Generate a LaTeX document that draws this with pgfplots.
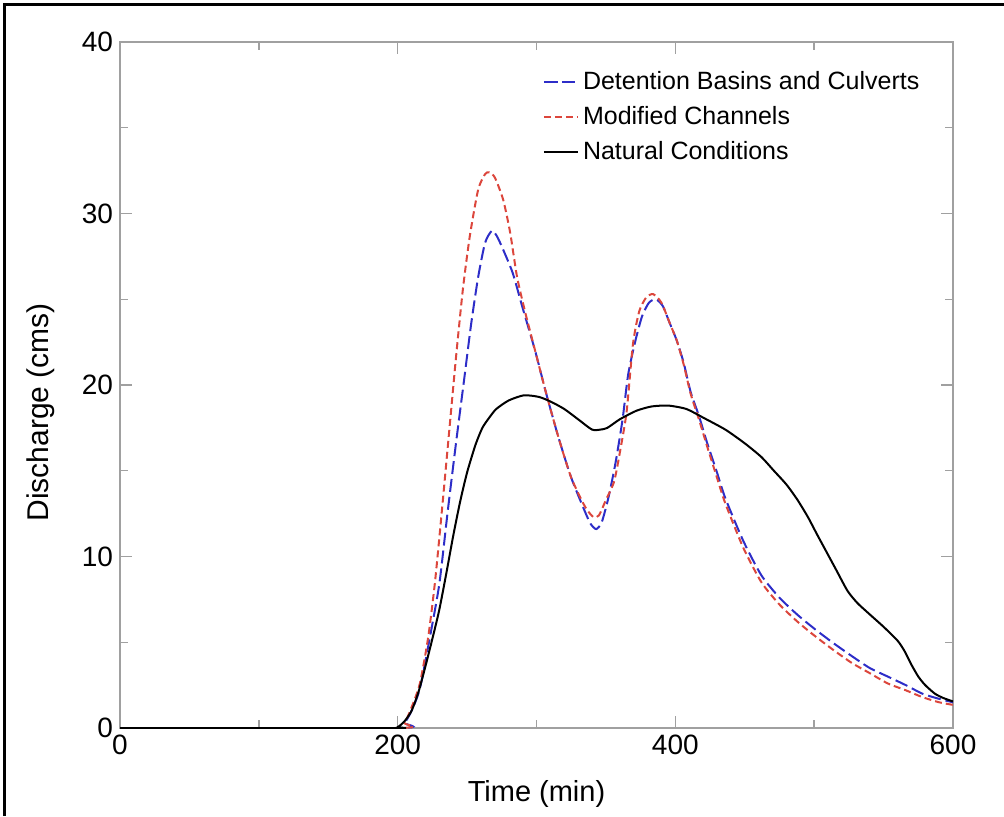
\documentclass[border=0pt]{standalone}
\usepackage{fontspec}
\setmainfont{Liberation Sans}
\usepackage{pgfplots}
\pgfplotsset{compat=1.18}
\definecolor{detblue}{RGB}{45,45,200}
\definecolor{modred}{RGB}{220,70,60}
\definecolor{axgray}{RGB}{160,160,160}
\begin{document}
\begin{tikzpicture}
\useasboundingbox (-60pt,-44pt) rectangle (442pt,364pt);
\draw[line width=1.5pt] (-57.5pt,-44pt) -- (-57.5pt,361.5pt) -- (442pt,361.5pt);
\begin{axis}[
  at={(0,0)}, anchor=south west,
  width=416.5pt, height=343pt, scale only axis,
  xmin=0, xmax=600, ymin=0, ymax=40,
  xtick={0,200,400,600}, ytick={0,10,20,30,40},
  minor xtick={100,300,500}, minor ytick={5,15,25,35},
  tick align=inside, major tick length=6pt, minor tick length=4pt,
  axis line style={axgray, line width=1pt},
  every tick/.style={axgray, line width=0.7pt},
  every minor tick/.style={axgray, line width=0.7pt},
  tick label style={font=\fontsize{14}{16}\selectfont},
  /pgf/number format/assume math mode=true,
  xlabel={Time (min)},
  ylabel={Discharge (cms)},
  every axis x label/.style={at={(axis description cs:0.5,0)}, yshift=-33pt, anchor=center, font=\fontsize{14.5}{17}\selectfont},
  every axis y label/.style={at={(axis description cs:-0.095,0.46)}, rotate=90, anchor=center, font=\fontsize{15}{18}\selectfont},
  legend style={draw=none, fill=none, at={(axis description cs:0.5,0.970)}, anchor=north west, font=\fontsize{12.5}{15}\selectfont, row sep=3pt},
  legend cell align=left,
]
\addplot[detblue, line width=1pt, dash pattern=on 6.5pt off 2.5pt, smooth, tension=0.4] coordinates {
(0,0) (200,0) (205,0.3) (210,1.0) (216,2.3) (223,5.2) (230,8.4) (236,12.6) (242,16.6) (248,20.4) (253,23.6) (258,26.3) (263,28.3) (268,29.0) (272,28.6) (277,27.7) (283,26.5) (290,24.5) (299,22) (307,19.5) (316,16.9) (325,14.6) (335,12.6) (339,11.9) (343,11.6) (347,12.0) (352,13.5) (357,15.5) (362,18.0) (366,20.6) (371,22.5) (376,24.0) (381,24.8) (386,25.0) (391,24.6) (396,23.6) (401,22.6) (406,21.3) (411,19.6) (417,18.2) (423,16.6) (430,14.9) (436,13.4) (449,10.9) (462,8.9) (475,7.6) (488,6.6) (500,5.8) (513,5.0) (527,4.2) (540,3.5) (553,3.0) (566,2.5) (578,2.0) (590,1.7) (600,1.5)
};
\addlegendentry{Detention Basins and Culverts}
\addplot[modred, line width=1pt, dash pattern=on 3.5pt off 2pt, smooth, tension=0.4] coordinates {
(0,0) (200,0) (205,0.3) (210,1.2) (216,2.6) (222,5.3) (227,8.6) (232,12.8) (237,17.2) (242,21.6) (247,25.6) (252,28.7) (258,31.4) (263,32.3) (266,32.4) (270,32.1) (276,30.8) (281,28.9) (286,26.3) (292,24.2) (299,22) (307,19.5) (316,16.9) (325,14.6) (335,12.9) (341,12.3) (345,12.4) (350,13.3) (356,14.4) (361,16.5) (365,18.5) (369.5,22.4) (374,24.3) (379,25.1) (384,25.3) (390,24.8) (396,23.6) (401,22.6) (406,21.2) (411,19.5) (417,18.0) (423,16.4) (430,14.6) (436,13.1) (449,10.5) (462,8.5) (475,7.2) (488,6.2) (500,5.4) (513,4.6) (527,3.8) (540,3.2) (553,2.6) (566,2.2) (578,1.8) (590,1.5) (600,1.35)
};
\addlegendentry{Modified Channels}
\addplot[black, line width=1pt, smooth, tension=0.4] coordinates {
(0,0) (195,0) (200,0.05) (205,0.4) (210,1.0) (215,2.1) (220,3.6) (225,5.2) (230,6.9) (235,9.0) (240,11.2) (245,13.2) (250,14.9) (256,16.5) (261,17.5) (266,18.1) (271,18.6) (280,19.1) (291,19.4) (302,19.3) (311,19.0) (320,18.6) (330,18.0) (340,17.4) (346,17.4) (351,17.5) (360,18.0) (372,18.5) (383,18.75) (395,18.8) (408,18.6) (420,18.1) (436,17.4) (450,16.6) (462,15.8) (471,15.0) (480,14.2) (488,13.3) (495.5,12.3) (502,11.3) (508,10.4) (516,9.2) (524,8.0) (531,7.3) (539,6.7) (550,5.9) (560,5.1) (565,4.5) (570,3.7) (575,3.0) (580,2.5) (587,2.0) (593,1.75) (600,1.55)
};
\addlegendentry{Natural Conditions}
\end{axis}
\end{tikzpicture}
\end{document}
